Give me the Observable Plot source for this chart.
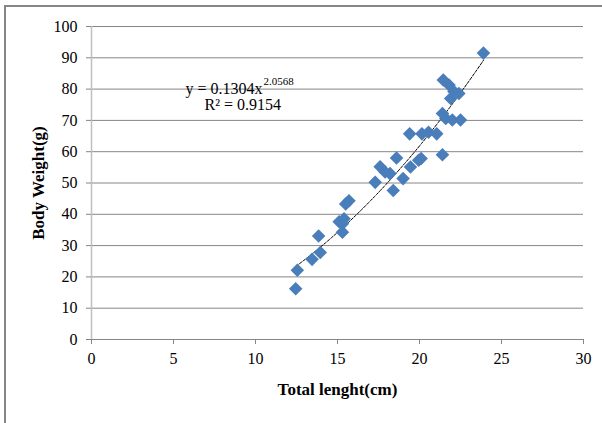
<!DOCTYPE html>
<html>
<head>
<meta charset="utf-8">
<script src="https://cdn.jsdelivr.net/npm/d3@7"></script>
<script src="https://cdn.jsdelivr.net/npm/@observablehq/plot@0.6"></script>
<style>
  html, body { margin: 0; padding: 0; background: #fff; overflow: hidden; }
  svg text { font-family: 'Liberation Serif', 'Times New Roman', serif !important; }
</style>
</head>
<body>
<div id="chart"></div>
<script>
// Total length (cm)
const totalLength = [
  12.45, 12.55, 13.45, 13.95, 13.85, 15.1, 15.3, 15.3, 15.4, 15.5, 15.7,
  17.3, 17.6, 17.9, 18.2, 18.4, 18.6, 19.0, 19.45, 19.95, 20.1,
  19.4, 20.15, 20.55, 21.05, 21.4, 21.4, 21.6, 22.0, 22.5,
  21.45, 21.8, 22.1, 22.4, 21.9, 23.9
];
// Body weight (g)
const bodyWeight = [
  16.2, 22.1, 25.6, 27.8, 33.1, 37.6, 34.3, 37.0, 38.6, 43.3, 44.3,
  50.2, 55.2, 53.5, 53.0, 47.6, 58.0, 51.4, 55.1, 57.3, 57.8,
  65.7, 65.7, 66.2, 65.7, 59.0, 72.2, 70.6, 70.1, 70.1,
  82.9, 81.3, 79.2, 78.6, 77.0, 91.5
];
// Power fit reported on the chart: y = a * x^b
const fitA = 0.1304;
const fitB = 2.0568;
const fitR2 = "0.9154";

const xTicks = [0, 5, 10, 15, 20, 25, 30];
const yTicks = [0, 10, 20, 30, 40, 50, 60, 70, 80, 90, 100];
const xTitle = "Total lenght(cm)";
const yTitle = "Body Weight(g)";
const eqMain = "y = 0.1304x";
const eqExp = "2.0568";
const eqR2 = "R\u00B2 = " + fitR2;

const data = totalLength.map((x, i) => ({x, y: bodyWeight[i]}));
const xMin = d3.min(totalLength), xMax = d3.max(totalLength);
const trend = d3.range(0, 101).map(i => {
  const x = xMin + (xMax - xMin) * i / 100;
  return {x, y: fitA * Math.pow(x, fitB)};
});

const font = "'Liberation Serif', 'Times New Roman', serif";

const chart = Plot.plot({
  width: 602,
  height: 423,
  marginLeft: 91,
  marginRight: 19,
  marginTop: 26,
  marginBottom: 84,
  style: {fontFamily: font, fontSize: "16px", background: "#fff", color: "#000"},
  x: {domain: [0, 30], label: null},
  y: {domain: [0, 100], label: null},
  marks: [
    Plot.gridY(yTicks.filter(d => d > 0), {stroke: "#868686", strokeOpacity: 1, strokeWidth: 1}),
    Plot.ruleX([0], {stroke: "#BFBFBF", strokeWidth: 1.5}),
    Plot.ruleY([0], {stroke: "#868686", strokeWidth: 1}),
    Plot.axisX({ticks: xTicks, tickSize: 5, tickPadding: 8, stroke: "#868686", fill: "#000", label: null, fontSize: 16, fontFamily: font}),
    Plot.axisY({ticks: yTicks, tickSize: 5, tickPadding: 9, stroke: "#868686", fill: "#000", label: null, fontSize: 16, fontFamily: font}),
    Plot.line(trend, {x: "x", y: "y", stroke: "#000", strokeWidth: 1, strokeDasharray: "3,1.5"}),
    Plot.dot(data, {x: "x", y: "y", symbol: "diamond2", r: 6.1, fill: "#4A7EBB", stroke: null}),
    Plot.text([eqMain], {text: d => d, frameAnchor: "top-left", dx: 94, dy: 62, textAnchor: "start", lineAnchor: "middle", fontSize: 16, fontFamily: font}),
    Plot.text([eqExp], {text: d => d, frameAnchor: "top-left", dx: 172, dy: 55, textAnchor: "start", lineAnchor: "middle", fontSize: 11, fontFamily: font}),
    Plot.text([eqR2], {text: d => d, frameAnchor: "top-left", dx: 113, dy: 78, textAnchor: "start", lineAnchor: "middle", fontSize: 16, fontFamily: font}),
    Plot.text([xTitle], {text: d => d, frameAnchor: "bottom", dy: 50, textAnchor: "middle", lineAnchor: "middle", fontWeight: "bold", fontSize: 17, fontFamily: font}),
    Plot.text([yTitle], {text: d => d, frameAnchor: "left", dx: -53, rotate: -90, textAnchor: "middle", lineAnchor: "middle", fontWeight: "bold", fontSize: 17, fontFamily: font})
  ]
});

// outer chart-area border (only top and left edges visible in frame)
d3.select(chart).insert("rect", ":first-child")
  .attr("x", 5).attr("y", 6).attr("width", 640).attr("height", 460)
  .attr("fill", "none").attr("stroke", "#868686").attr("stroke-width", 2);

document.getElementById("chart").appendChild(chart);
</script>
</body>
</html>
